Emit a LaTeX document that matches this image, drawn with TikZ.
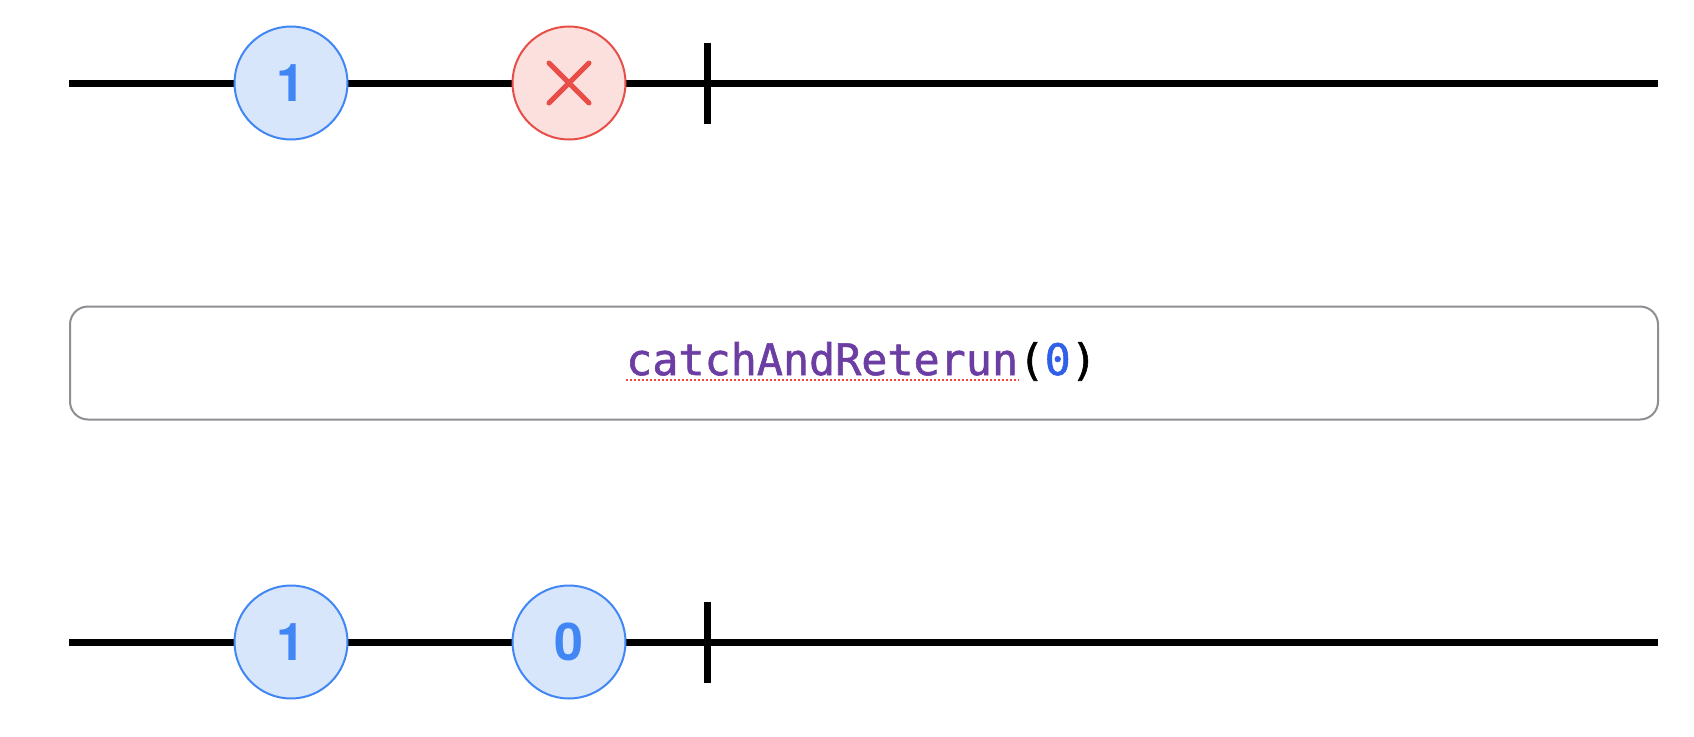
\documentclass[tikz,border=0pt]{standalone}
\usepackage{fontspec}
\newfontfamily\digitfont{TeX Gyre Heros}
\newfontfamily\codefont{DejaVu Sans Mono}[FakeBold=1.3]
\definecolor{evblue}{RGB}{64,134,244}
\definecolor{evfill}{RGB}{216,230,252}
\definecolor{errred}{RGB}{232,78,72}
\definecolor{errfill}{RGB}{251,224,221}
\definecolor{boxgray}{RGB}{142,142,147}
\definecolor{fnpurple}{RGB}{108,62,163}
\definecolor{numblue}{RGB}{48,96,232}
\definecolor{squiggle}{RGB}{236,70,60}
\tikzset{
  track/.style={line width=7pt, black},
  evt/.style={circle, minimum size=113pt, inner sep=0pt, draw=evblue, line width=2pt,
    fill=evfill, text=evblue, font=\digitfont\bfseries\fontsize{52}{60}\selectfont},
  errev/.style={circle, minimum size=113pt, inner sep=0pt, draw=errred, line width=2pt, fill=errfill},
  xmark/.style={line width=5pt, errred, line cap=round},
  opbox/.style={draw=boxgray, line width=2pt, rounded corners=18pt, fill=white},
  code/.style={inner sep=0pt, font=\codefont\fontsize{43.4}{50}\selectfont},
}
\begin{document}
\begin{tikzpicture}[x=1pt,y=-1pt]
\useasboundingbox (0,0) rectangle (1694,736);
% top stream
\coordinate (t1s) at (69,83);
\coordinate (t1e) at (1658,83);
\draw[track] (t1s) -- (t1e);
\coordinate (k1a) at (707,43);
\coordinate (k1b) at (707,124);
\draw[track] (k1a) -- (k1b);
\node[evt] (a1) at (291,83) {1};
\node[errev] (ax) at (569,83) {};
\draw[xmark] ([shift={(-20,-20)}]ax.center) -- ([shift={(20,20)}]ax.center);
\draw[xmark] ([shift={(20,-20)}]ax.center) -- ([shift={(-20,20)}]ax.center);
% operator box
\node[opbox, minimum width=1588pt, minimum height=113pt, inner sep=0pt] (op) at (864,363) {};
\node[code, anchor=base west, text=fnpurple] (fn) at (626,375) {catchAndReterun};
\node[code, anchor=base west] (args) at (fn.base east) {(\textcolor{numblue}{0})};
\draw[squiggle, line width=2pt, dash pattern=on 2pt off 2pt] ([yshift=-5pt]fn.base west) -- ([yshift=-5pt]fn.base east);
% bottom stream
\coordinate (t2s) at (69,642);
\coordinate (t2e) at (1658,642);
\draw[track] (t2s) -- (t2e);
\coordinate (k2a) at (707,602);
\coordinate (k2b) at (707,683);
\draw[track] (k2a) -- (k2b);
\node[evt] (b1) at (291,642) {1};
\node[evt] (b0) at (569,642) {0};
\end{tikzpicture}
\end{document}
